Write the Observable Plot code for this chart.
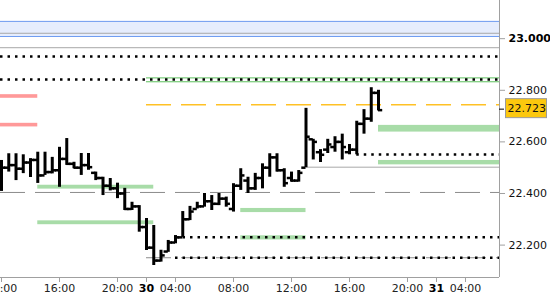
<!DOCTYPE html>
<html>
<head>
<meta charset="utf-8">
<script src="https://cdn.jsdelivr.net/npm/d3@7"></script>
<script src="https://cdn.jsdelivr.net/npm/@observablehq/plot@0.6"></script>
<style>
  html, body { margin: 0; padding: 0; background: #fff; }
  #chart { width: 550px; height: 300px; }
</style>
</head>
<body>
<div id="chart"></div>
<script>
// ---- data ----
// bar slots (30-min slots during the day, hourly overnight), slot 0 = 29th 12:00
const slots = d3.range(53);
const opens  = [22.47,22.50,22.51,22.496,22.52,22.53,22.47,22.483,22.49,22.534,22.515,22.50,22.51,22.48,22.46,22.43,22.42,22.40,22.34,22.35,22.27,22.19,22.14,22.175,22.21,22.23,22.30,22.34,22.35,22.37,22.36,22.38,22.34,22.43,22.45,22.42,22.46,22.50,22.54,22.49,22.46,22.45,22.50,22.61,22.56,22.57,22.58,22.60,22.56,22.57,22.67,22.69,22.79];
const highs  = [22.528,22.554,22.554,22.55,22.535,22.56,22.56,22.54,22.579,22.613,22.521,22.555,22.555,22.483,22.463,22.458,22.44,22.42,22.366,22.353,22.303,22.276,22.18,22.218,22.237,22.33,22.35,22.366,22.40,22.392,22.40,22.386,22.438,22.496,22.463,22.478,22.515,22.554,22.554,22.496,22.483,22.489,22.73,22.61,22.57,22.61,22.62,22.63,22.59,22.68,22.725,22.81,22.80];
const lows   = [22.408,22.483,22.45,22.477,22.462,22.439,22.47,22.476,22.424,22.509,22.496,22.47,22.49,22.45,22.392,22.41,22.38,22.334,22.334,22.25,22.179,22.121,22.134,22.172,22.205,22.23,22.295,22.34,22.347,22.334,22.353,22.347,22.328,22.412,22.40,22.412,22.418,22.463,22.483,22.424,22.444,22.444,22.50,22.53,22.52,22.555,22.56,22.53,22.55,22.55,22.63,22.676,22.72];
const closes = [22.50,22.51,22.496,22.52,22.53,22.47,22.483,22.49,22.534,22.515,22.50,22.51,22.502,22.46,22.43,22.42,22.40,22.34,22.35,22.27,22.19,22.14,22.16,22.21,22.23,22.30,22.33,22.35,22.37,22.36,22.38,22.36,22.43,22.47,22.42,22.46,22.50,22.54,22.49,22.44,22.45,22.48,22.62,22.60,22.55,22.59,22.60,22.58,22.57,22.67,22.69,22.79,22.723];
const lastPrice = 22.723;

// x axis ticks
const tickSlots  = [0, 8, 16, 20, 24, 32, 40, 48, 56, 60, 64];
const tickLabels = ["12:00","16:00","20:00","30","04:00","08:00","12:00","16:00","20:00","31","04:00"];
const boldTickLabels = ["30", "31"];
const yTicks = [22.2, 22.4, 22.6, 22.8, 23.0];
const boldYTicks = [23.0];

// visible extent of the chart
const xExtent = [-0.14, 68.69];
const yExtent = [22.0744, 23.148];

// level overlays
const blueBand = [23.0085, 23.067];
const grayLevels = [23.021, 22.965];
const grayLevelFrom = [null, null];
const graySolidLevel = 22.502, graySolidFrom = 42;
const dottedLevels = [22.931, 22.842, 22.551, 22.230, 22.151];
const dottedFrom   = [null, null, 49, 24, 24];
const grayDashedLevels = [22.404, 22.151];
const grayDashedFrom   = [null, 20];
const greenLineLevels = [22.848, 22.833];
const greenLineFrom = 20;
const orangeLevel = 22.744, orangeFrom = 20;
const redZoneLow  = [22.769, 22.658];
const redZoneHigh = [22.783, 22.672];
const redZoneTo = 5;
const greenZoneLow  = [22.638, 22.511, 22.417, 22.279, 22.326, 22.220];
const greenZoneHigh = [22.664, 22.528, 22.432, 22.294, 22.342, 22.236];
const greenZoneFrom = [52, 52, 5, 5, 33, 33];
const greenZoneTo   = [null, null, 21, 21, 42, 42];

// ---- build tables ----
const bars = slots.map((s, i) => ({s, o: opens[i], h: highs[i], l: lows[i], c: closes[i]}));
const xL = xExtent[0], xR = xExtent[1];
const lvl = (vals, from) => vals.map((v, i) => ({v, from: (Array.isArray(from) ? from[i] : from) ?? xL}));
const zones = (lo, hi, from, to) => lo.map((l, i) => ({l, h: hi[i], from: (from ? from[i] : null) ?? xL, to: (Array.isArray(to) ? to[i] : to) ?? xR}));

const fmt = d3.format(".3f");
const FONT = "DejaVu Sans, Verdana, sans-serif";

const priceTag = (index, scales, values, dims) => {
  const y = scales.y(lastPrice);
  const x0 = dims.width - dims.marginRight;
  const g = d3.create("svg:g");
  g.append("line").attr("x1", x0).attr("x2", x0 + 5).attr("y1", y - 0.5).attr("y2", y - 0.5).attr("stroke", "#000");
  g.append("rect").attr("x", x0 + 6.5).attr("y", y - 11).attr("width", 41).attr("height", 19)
    .attr("fill", "#fcc80e").attr("stroke", "#9a9a9a");
  g.append("text").attr("x", x0 + 8.5).attr("y", y - 1.5).attr("dy", "0.35em")
    .attr("text-anchor", "start")
    .attr("font-family", FONT).attr("font-size", 11).attr("fill", "#111").text(fmt(lastPrice));
  return g.node();
};

const chart = Plot.plot({
  width: 550,
  height: 300,
  marginLeft: 0,
  marginRight: 51,
  marginTop: 0,
  marginBottom: 23,
  x: {domain: xExtent},
  y: {domain: yExtent},
  style: {fontFamily: FONT, fontSize: "11px", background: "#fff", color: "#111", overflow: "visible"},
  marks: [
    // blue band at top
    Plot.rect([blueBand], {x1: () => xL, x2: () => xR, y1: d => d[0], y2: d => d[1], fill: "#e6edfd"}),
    Plot.ruleY(blueBand, {y: d => d, stroke: "#6f9cf0", strokeWidth: 1}),
    Plot.ruleY(lvl(grayLevels, grayLevelFrom), {y: "v", x1: "from", x2: () => xR, stroke: "#a8a8a8", strokeWidth: 1}),
    // zones
    Plot.rect(zones(redZoneLow, redZoneHigh, null, redZoneTo), {x1: "from", x2: "to", y1: "l", y2: "h", fill: "#ff9999"}),
    Plot.rect(zones(greenZoneLow, greenZoneHigh, greenZoneFrom, greenZoneTo), {x1: "from", x2: "to", y1: "l", y2: "h", fill: "#a8dca8"}),
    // levels
    Plot.ruleY(lvl(greenLineLevels, greenLineFrom), {y: "v", x1: "from", x2: () => xR, stroke: "#5cbf5c", strokeWidth: 1}),
    Plot.ruleY([{v: graySolidLevel, from: graySolidFrom}], {y: "v", x1: "from", x2: () => xR, stroke: "#a8a8a8", strokeWidth: 1}),
    Plot.ruleY(lvl(grayDashedLevels, grayDashedFrom), {y: "v", x1: "from", x2: () => xR, stroke: "#8c8c8c", strokeWidth: 1, strokeDasharray: "25,10"}),
    Plot.ruleY([{v: orangeLevel, from: orangeFrom}], {y: "v", x1: "from", x2: () => xR, stroke: "#ffc125", strokeWidth: 1.5, strokeDasharray: "25,10"}),
    Plot.ruleY(lvl(dottedLevels, dottedFrom), {y: "v", x1: "from", x2: () => xR, stroke: "#000", strokeWidth: 2.5, strokeDasharray: "2.5,5"}),
    // OHLC bars
    Plot.ruleX(bars, {x: "s", y1: "l", y2: "h", stroke: "#000", strokeWidth: 3}),
    Plot.ruleY(bars, {y: "o", x1: d => d.s - 0.58, x2: d => d.s, stroke: "#000", strokeWidth: 2.5}),
    Plot.ruleY(bars, {y: "c", x1: d => d.s, x2: d => d.s + 0.58, stroke: "#000", strokeWidth: 2.5}),
    // frame
    Plot.ruleX([xR], {stroke: "#a0a0a0"}),
    Plot.ruleY([yExtent[0]], {stroke: "#a0a0a0"}),
    // axes
    Plot.axisY(yTicks.filter(t => !boldYTicks.includes(t)), {anchor: "right", tickSize: 5, tickPadding: 4, tickFormat: fmt, stroke: "#a0a0a0", fill: "#111"}),
    Plot.axisY(boldYTicks, {anchor: "right", tickSize: 5, tickPadding: 4, tickFormat: fmt, stroke: "#a0a0a0", fill: "#000", fontWeight: "bold"}),
    Plot.axisX(tickSlots.filter((s, i) => !boldTickLabels.includes(tickLabels[i])), {anchor: "bottom", tickSize: 5, tickPadding: 2, stroke: "#a0a0a0", fill: "#222",
      tickFormat: d => tickLabels[tickSlots.indexOf(d)]}),
    Plot.axisX(tickSlots.filter((s, i) => boldTickLabels.includes(tickLabels[i])), {anchor: "bottom", tickSize: 5, tickPadding: 2, stroke: "#a0a0a0", fill: "#000", fontWeight: "bold",
      tickFormat: d => tickLabels[tickSlots.indexOf(d)]}),
    priceTag
  ]
});
document.getElementById("chart").appendChild(chart);
</script>
</body>
</html>
